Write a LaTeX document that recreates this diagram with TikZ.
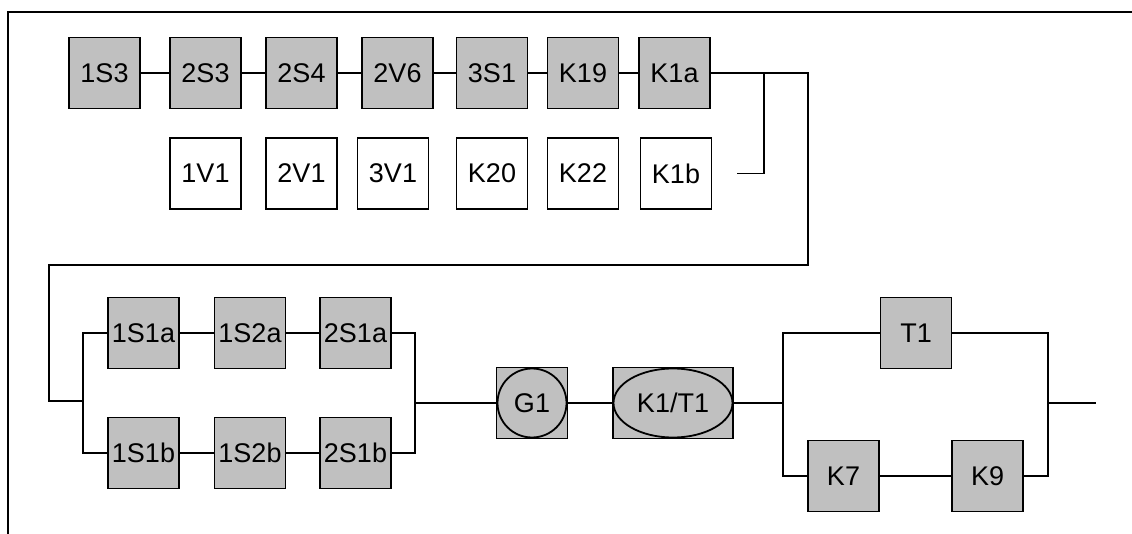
\documentclass[tikz,border=0pt]{standalone}
\usepackage{fontspec}
\setmainfont{Liberation Sans}
\usetikzlibrary{shapes.geometric}
\definecolor{boxgray}{RGB}{192,192,192}

\begin{document}
\begin{tikzpicture}[x=1pt, y=-1pt,
    font=\fontsize{27}{32}\selectfont,
    unit/.style={draw, rectangle, line width=1.8pt, minimum size=71pt, inner sep=0pt},
    graybox/.style={unit, fill=boxgray},
    whitebox/.style={unit, fill=white},
    oval/.style={draw, ellipse, line width=1.8pt, inner sep=0pt},
    link/.style={line width=1.4pt},
    ]
  \useasboundingbox (0,0) rectangle (1132,534);
  \draw[line width=2pt] (8,534) |- (1132,12);

  % upper chain
  \node[graybox] (1S3) at (104.5,73) {1S3};
  \node[graybox] (2S3) at (205.5,73) {2S3};
  \node[graybox] (2S4) at (301.5,73) {2S4};
  \node[graybox] (2V6) at (397.5,73) {2V6};
  \node[graybox] (3S1) at (492,73) {3S1};
  \node[graybox] (K19) at (583,73) {K19};
  \node[graybox] (K1a) at (674.5,73) {K1a};

  \node[whitebox] (1V1) at (205.5,173.5) {1V1};
  \node[whitebox] (2V1) at (301.5,173.5) {2V1};
  \node[whitebox] (3V1) at (393,173.5) {3V1};
  \node[whitebox] (K20) at (492,173.5) {K20};
  \node[whitebox] (K22) at (583,173.5) {K22};
  \node[whitebox] (K1b) at (676,173.5) {K1b};

  % lower chain
  \node[graybox] (1S1a) at (143.5,333) {1S1a};
  \node[graybox] (1S2a) at (250,333) {1S2a};
  \node[graybox] (2S1a) at (355.5,333) {2S1a};
  \node[graybox] (1S1b) at (143.5,453) {1S1b};
  \node[graybox] (1S2b) at (250,453) {1S2b};
  \node[graybox] (2S1b) at (355.5,453) {2S1b};

  \node[graybox] (G1box) at (532,403) {};
  \node[oval, minimum width=69pt, minimum height=69pt] (G1) at (G1box) {G1};
  \node[graybox, minimum width=120pt] (K1T1box) at (673,403) {};
  \node[oval, minimum width=119pt, minimum height=69pt] (K1T1) at (K1T1box) {K1/T1};

  \node[graybox] (T1) at (916,333) {T1};
  \node[graybox] (K7) at (843.5,476) {K7};
  \node[graybox] (K9) at (987.5,476) {K9};

  \coordinate (turnR) at (808,73);
  \coordinate (turnL) at (49,265);
  \coordinate (splitL) at (83,401);
  \coordinate (K1bend) at (737,173.5);
  \coordinate (tapK) at (764,73);
  \coordinate (joinL) at (415,403);
  \coordinate (splitR) at (783,403);
  \coordinate (joinR) at (1048,403);
  \coordinate (out) at (1096,403);

  \draw[link] (1S3) -- (2S3) -- (2S4) -- (2V6) -- (3S1) -- (K19) -- (K1a);
  \draw[link] (K1a) -- (turnR) |- (turnL) |- (splitL);
  \draw[link] (K1bend) -| (tapK);

  \draw[link] (1S1a) -| (splitL) |- (1S1b);
  \draw[link] (1S1a) -- (1S2a) -- (2S1a);
  \draw[link] (1S1b) -- (1S2b) -- (2S1b);
  \draw[link] (2S1a) -| (joinL) |- (2S1b);
  \draw[link] (joinL) -- (G1box) -- (K1T1box) -- (splitR);

  \draw[link] (T1) -| (splitR) |- (K7);
  \draw[link] (K7) -- (K9);
  \draw[link] (T1) -| (joinR) |- (K9);
  \draw[link] (joinR) -- (out);
\end{tikzpicture}
\end{document}
